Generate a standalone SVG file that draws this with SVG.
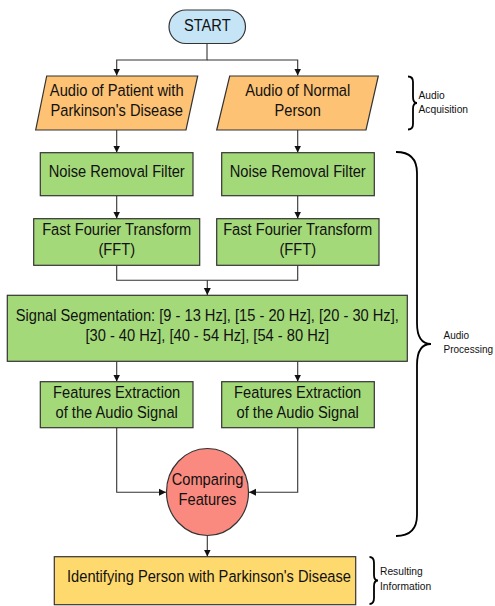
<svg xmlns="http://www.w3.org/2000/svg" width="495" height="606" viewBox="0 0 495 606">
<defs>
<marker id="arr" markerWidth="8" markerHeight="8" refX="7" refY="4" orient="auto" markerUnits="userSpaceOnUse">
<path d="M0,0.5 L7,4 L0,7.5 Z" fill="#111"/>
</marker>
<style>
.n{stroke:#333;stroke-width:1.2}
.t{font-family:"Liberation Sans",Arial,sans-serif;font-size:16.3px;fill:#111;text-anchor:middle;dominant-baseline:middle}
.s{font-family:"Liberation Sans",Arial,sans-serif;font-size:11.4px;fill:#111}
.c{fill:none;stroke:#333;stroke-width:1.1}
.b{fill:none;stroke:#000;stroke-width:1.8}
.g{fill:#a4d97a}
</style>
</defs>
<rect width="495" height="606" fill="#fff"/>
<g id="connectors">
<path class="c" d="M207,44 V60 H116.7 V75.5" marker-end="url(#arr)"/>
<path class="c" d="M207,60 H297.7 V75.5" marker-end="url(#arr)"/>
<path class="c" d="M116.7,130 V152.5" marker-end="url(#arr)"/>
<path class="c" d="M297.7,130 V152.5" marker-end="url(#arr)"/>
<path class="c" d="M116.7,196 V218.5" marker-end="url(#arr)"/>
<path class="c" d="M297.7,196 V218.5" marker-end="url(#arr)"/>
<path class="c" d="M116.7,265.5 V280.3 H297.7 V265.5"/>
<path class="c" d="M207.3,280.3 V295" marker-end="url(#arr)"/>
<path class="c" d="M116.7,361.5 V381.5" marker-end="url(#arr)"/>
<path class="c" d="M297.7,361.5 V381.5" marker-end="url(#arr)"/>
<path class="c" d="M116.7,428 V492.3 H166" marker-end="url(#arr)"/>
<path class="c" d="M297.7,428 V492.3 H249" marker-end="url(#arr)"/>
<path class="c" d="M207.3,536 V556.5" marker-end="url(#arr)"/>
</g>
<g id="start">
<rect class="n" x="169" y="10" width="76.5" height="33.5" rx="16.7" fill="#c5e4f6"/>
<text class="t" x="0" y="26.5" transform="translate(207.3 0) scale(0.9 1)">START</text>
</g>
<g id="audio-patient">
<polygon class="n" points="46.7,76 197.7,76 186,130 35.7,130" fill="#fdc273"/>
<text class="t" x="0" y="91.5" transform="translate(116.7 0) scale(0.9 1)">Audio of Patient with</text>
<text class="t" x="0" y="111.5" transform="translate(116.7 0) scale(0.9 1)">Parkinson's Disease</text>
</g>
<g id="audio-normal">
<polygon class="n" points="229.7,76 378.3,76 366,130 216.7,130" fill="#fdc273"/>
<text class="t" x="0" y="91.5" transform="translate(297.7 0) scale(0.9 1)">Audio of Normal</text>
<text class="t" x="0" y="111.5" transform="translate(297.7 0) scale(0.9 1)">Person</text>
</g>
<g id="noise-left">
<rect class="n g" x="40.3" y="152.7" width="152.7" height="43"/>
<text class="t" x="0" y="172.5" transform="translate(116.7 0) scale(0.9 1)">Noise Removal Filter</text>
</g>
<g id="noise-right">
<rect class="n g" x="221.7" y="152.7" width="152.6" height="43"/>
<text class="t" x="0" y="172.5" transform="translate(297.7 0) scale(0.9 1)">Noise Removal Filter</text>
</g>
<g id="fft-left">
<rect class="n g" x="33.7" y="218.7" width="166" height="46.6"/>
<text class="t" x="0" y="230.5" transform="translate(116.7 0) scale(0.9 1)">Fast Fourier Transform</text>
<text class="t" x="0" y="250.5" transform="translate(116.7 0) scale(0.9 1)">(FFT)</text>
</g>
<g id="fft-right">
<rect class="n g" x="216.7" y="218.7" width="162.3" height="46.6"/>
<text class="t" x="0" y="230.5" transform="translate(297.7 0) scale(0.9 1)">Fast Fourier Transform</text>
<text class="t" x="0" y="250.5" transform="translate(297.7 0) scale(0.9 1)">(FFT)</text>
</g>
<g id="segmentation">
<rect class="n g" x="7.3" y="295.3" width="400" height="66"/>
<text class="t" x="0" y="317" transform="translate(207.3 0) scale(0.9 1)">Signal Segmentation: [9 - 13 Hz], [15 - 20 Hz], [20 - 30 Hz],</text>
<text class="t" x="0" y="337" transform="translate(207.3 0) scale(0.9 1)">[30 - 40 Hz], [40 - 54 Hz], [54 - 80 Hz]</text>
</g>
<g id="features-left">
<rect class="n g" x="40.3" y="381.7" width="152.7" height="46"/>
<text class="t" x="0" y="393.5" transform="translate(116.7 0) scale(0.9 1)">Features Extraction</text>
<text class="t" x="0" y="413.5" transform="translate(116.7 0) scale(0.9 1)">of the Audio Signal</text>
</g>
<g id="features-right">
<rect class="n g" x="221.7" y="381.7" width="152.6" height="46"/>
<text class="t" x="0" y="393.5" transform="translate(297.7 0) scale(0.9 1)">Features Extraction</text>
<text class="t" x="0" y="413.5" transform="translate(297.7 0) scale(0.9 1)">of the Audio Signal</text>
</g>
<g id="comparing">
<ellipse class="n" cx="207.5" cy="492" rx="41" ry="43.5" fill="#fa8a7f"/>
<text class="t" x="0" y="481" transform="translate(207.5 0) scale(0.9 1)">Comparing</text>
<text class="t" x="0" y="501" transform="translate(207.5 0) scale(0.9 1)">Features</text>
</g>
<g id="identifying">
<rect class="n" x="54.3" y="556.7" width="301.4" height="48" fill="#fed96d"/>
<text class="t" x="0" y="578" transform="translate(209 0) scale(0.9 1)">Identifying Person with Parkinson's Disease</text>
</g>
<g id="labels">
<path class="b" d="M408,76.5 Q413,76.5 413,82 L413,97 Q413,103 417,103 Q413,103 413,109 L413,124 Q413,129.5 408,129.5"/>
<text class="s" x="0" y="99.5" transform="translate(418.5 0) scale(0.9 1)">Audio</text>
<text class="s" x="0" y="113.5" transform="translate(418.5 0) scale(0.9 1)">Acquisition</text>
<path class="b" d="M396,152 Q417,152 417,173 L417,323 Q417,344 431,344 Q417,344 417,365 L417,515 Q417,536 396,536"/>
<text class="s" x="0" y="339" transform="translate(443.5 0) scale(0.88 1)">Audio</text>
<text class="s" x="0" y="353.5" transform="translate(443.5 0) scale(0.88 1)">Processing</text>
<path class="b" d="M369.5,557 Q374,557 374,563 L374,575 Q374,580.5 378,580.5 Q374,580.5 374,586 L374,598 Q374,604 369.5,604"/>
<text class="s" x="0" y="575.5" transform="translate(380 0) scale(0.9 1)">Resulting</text>
<text class="s" x="0" y="590" transform="translate(380 0) scale(0.9 1)">Information</text>
</g>
</svg>
